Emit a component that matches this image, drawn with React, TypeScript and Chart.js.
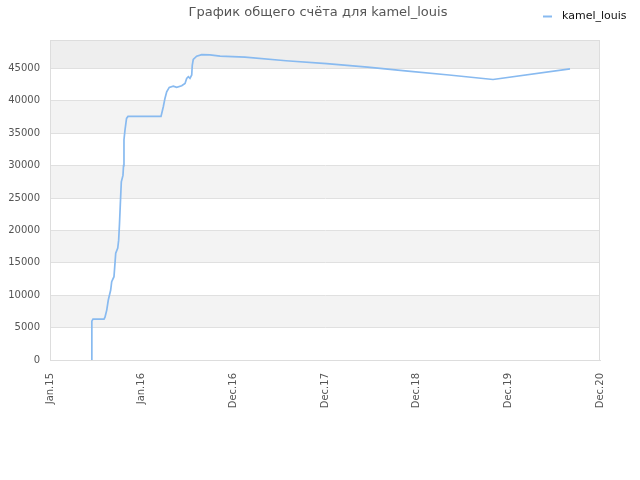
import { useEffect, useRef } from "react";
import { Chart, registerables } from "chart.js";

Chart.register(...registerables);

const TITLE = "График общего счёта для kamel_louis";
const SERIES_NAME = "kamel_louis";
const X_LABELS = ["Jan.15", "Jan.16", "Dec.16", "Dec.17", "Dec.18", "Dec.19", "Dec.20"];
const Y_TICKS = [0, 5000, 10000, 15000, 20000, 25000, 30000, 35000, 40000, 45000];

// position along the x axis, in tick steps (0 = Jan.15 ... 6 = Dec.20)
const POS = [
  0.451, 0.455, 0.458, 0.469, 0.589, 0.6, 0.619, 0.636, 0.662, 0.673, 0.698, 0.709,
  0.717, 0.739, 0.749, 0.758, 0.767, 0.778, 0.796, 0.802, 0.807, 0.818, 0.835, 0.851,
  1.211, 1.236, 1.254, 1.273, 1.301, 1.345, 1.382, 1.437, 1.473, 1.491, 1.509, 1.527,
  1.546, 1.552, 1.563, 1.6, 1.655, 1.745, 1.855, 2.127, 2.575, 3.018, 3.464, 3.905,
  4.353, 4.833, 5.673,
];
const SCORE = [
  0, 4500, 6000, 6300, 6300, 6600, 7700, 9260, 10800, 12080, 12860, 14960,
  16500, 17280, 18500, 21000, 24000, 27500, 28500, 30000, 34000, 35500, 37300, 37600,
  37600, 39090, 40380, 41400, 42080, 42280, 42080, 42330, 42700, 43470, 43730, 43470,
  44000, 45500, 46400, 46900, 47150, 47100, 46900, 46750, 46200, 45750, 45200, 44600,
  44000, 43300, 44950,
];

const LINE_COLOR = "#88baf0";

const decor = {
  id: "decor",
  beforeDraw(chart: any) {
    const { ctx, chartArea: a } = chart;
    const y = chart.scales.y;
    ctx.save();
    const step = 5000;
    for (let i = 0; i * step < y.max; i++) {
      const lo = i * step;
      const hi = Math.min((i + 1) * step, y.max);
      const top = y.getPixelForValue(hi);
      const bot = y.getPixelForValue(lo);
      let col = i % 2 === 1 ? "#f3f3f3" : "#ffffff";
      if (hi === y.max) col = "#eeeeee";
      ctx.fillStyle = col;
      ctx.fillRect(a.left, top, a.right - a.left, bot - top);
    }
    ctx.restore();
  },
  beforeDatasetsDraw(chart: any) {
    const { ctx, chartArea: a } = chart;
    ctx.save();
    ctx.strokeStyle = "#dddddd";
    ctx.lineWidth = 1;
    ctx.strokeRect(a.left + 0.5, a.top + 0.5, a.right - a.left - 1, a.bottom - a.top);
    ctx.restore();
  },
  afterDraw(chart: any) {
    const { ctx } = chart;
    ctx.save();
    ctx.textBaseline = "middle";
    ctx.font = "13px 'DejaVu Sans'";
    ctx.fillStyle = "#555555";
    ctx.textAlign = "center";
    ctx.fillText(TITLE, 318, 13);
    ctx.strokeStyle = LINE_COLOR;
    ctx.lineWidth = 2;
    ctx.beginPath();
    ctx.moveTo(543, 16.5);
    ctx.lineTo(552, 16.5);
    ctx.stroke();
    ctx.font = "11px 'DejaVu Sans'";
    ctx.fillStyle = "#111111";
    ctx.textAlign = "left";
    ctx.fillText(SERIES_NAME, 562, 16);
    ctx.restore();
  },
};

export default function App() {
  const canvasRef = useRef<HTMLCanvasElement>(null);
  const chartRef = useRef<Chart | null>(null);

  useEffect(() => {
    if (!canvasRef.current) return;
    chartRef.current?.destroy();

    chartRef.current = new Chart(canvasRef.current, {
      type: "line",
      data: {
        datasets: [
          {
            label: SERIES_NAME,
            data: POS.map((x, i) => ({ x, y: SCORE[i] })),
            borderColor: LINE_COLOR,
            borderWidth: 1.7,
            pointRadius: 0,
            tension: 0,
          },
        ],
      },
      options: {
        responsive: false,
        animation: false,
        layout: { padding: { left: 0, top: 40, right: 40, bottom: 0 } },
        plugins: {
          legend: { display: false },
          title: { display: false },
          tooltip: { enabled: false },
        },
        scales: {
          x: {
            type: "linear",
            min: 0,
            max: 6,
            grid: { display: false, drawTicks: false },
            border: { color: "#dddddd" },
            ticks: {
              stepSize: 1,
              minRotation: 90,
              maxRotation: 90,
              padding: 13,
              color: "#555555",
              font: { family: "'DejaVu Sans'", size: 10 },
              callback: (v: any) => X_LABELS[Number(v)] ?? "",
            },
            afterFit: (s: any) => { s.height = 120; },
          },
          y: {
            min: 0,
            max: 49400,
            grid: { color: "#e0e0e0", drawTicks: false },
            border: { color: "#dddddd" },
            ticks: {
              padding: 10,
              color: "#555555",
              font: { family: "'DejaVu Sans'", size: 10 },
              callback: (v: any) => String(v),
            },
            afterBuildTicks: (s: any) => {
              s.ticks = Y_TICKS.map((value) => ({ value }));
            },
            afterFit: (s: any) => { s.width = 50; },
          },
        },
      },
      plugins: [decor],
    });

    return () => { chartRef.current?.destroy(); };
  }, []);

  return (
    <div style={{ position: "absolute", left: 0, top: 0, width: 640, height: 480, background: "#fff" }}>
      <canvas ref={canvasRef} width={640} height={480} />
    </div>
  );
}
